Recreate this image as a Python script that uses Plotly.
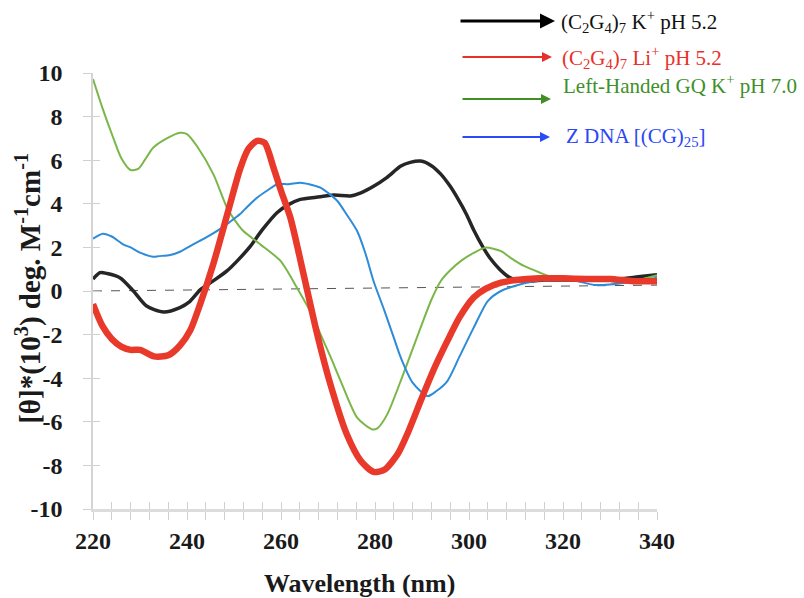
import plotly.graph_objects as go

# ---------------- data ----------------
wl_k = [220, 221.5, 223, 225.8, 228.6, 231.4, 235, 238.5, 240.5, 242.8, 245.5, 248.5, 251, 253.5,
        256, 259.2, 261.5, 264.1, 267.5, 271.2, 274.8, 277, 279.7, 282.5, 285.5, 287.5, 289.7, 292,
        294, 296, 297.5, 299.5, 301, 303, 304.5, 306.5, 308.5, 310, 313, 316, 320, 324, 328, 332, 336, 340]
cd_k = [0.55, 0.84, 0.8, 0.6, 0.0, -0.69, -0.96, -0.76, -0.5, 0.05, 0.45, 0.92, 1.45, 2.06,
        2.8, 3.6, 3.95, 4.2, 4.3, 4.4, 4.36, 4.5, 4.8, 5.2, 5.73, 5.9, 5.96, 5.75,
        5.36, 4.8, 4.28, 3.5, 2.8, 2.0, 1.5, 1.0, 0.64, 0.5, 0.45, 0.5, 0.5, 0.5, 0.55, 0.55, 0.65, 0.75]

wl_li = [220, 222, 224, 226, 228, 230, 233, 236, 238.5, 240.7, 242.8, 245.6, 248.8, 251.3, 253,
         254.8, 256.5, 258.4, 260, 262, 264.8, 267.7, 270.5, 274, 277, 279.7, 282, 284.8, 287,
         289.7, 292.5, 295.4, 298, 301, 303.5, 306.8, 310, 315, 320, 325, 330, 335, 340]
cd_li = [-0.6, -1.6, -2.2, -2.55, -2.7, -2.7, -3.0, -2.95, -2.5, -1.8, -0.6, 1.24, 3.7, 5.6, 6.5,
         6.88, 6.8, 5.66, 4.6, 3.36, 0.77, -1.98, -4.27, -6.57, -7.8, -8.3, -8.2, -7.49, -6.5,
         -5.05, -3.6, -2.29, -1.2, -0.3, 0.1, 0.38, 0.5, 0.58, 0.58, 0.55, 0.55, 0.45, 0.45]

wl_gq = [220, 222, 224.3, 226, 228, 229.6, 231, 232.8, 235.7, 238.5, 240, 242.1, 245.6, 248.5, 250,
         252, 255.6, 259.9, 263.4, 266.9, 268.4, 270.5, 272.7, 276.2, 279.4, 280.5, 282.6, 286,
         289.7, 292, 294, 296, 298.3, 301, 303.5, 306.8, 309, 311.7, 315, 318, 322, 326.6, 329,
         332.4, 336, 340]
cd_gq = [9.72, 8.4, 7.03, 6.1, 5.55, 5.6, 6.0, 6.57, 7.0, 7.26, 7.2, 6.65, 5.36, 3.82, 3.3,
         2.75, 2.14, 1.38, 0.15, -1.22, -1.98, -3.0, -4.13, -5.81, -6.35, -6.3, -5.66, -3.82,
         -1.68, -0.4, 0.46, 0.95, 1.38, 1.75, 1.99, 1.83, 1.5, 1.15, 0.85, 0.61, 0.6, 0.55, 0.5,
         0.38, 0.5, 0.73]

wl_z = [220, 222.1, 224, 226.4, 228, 230, 232.8, 234, 236.4, 238.5, 241.3, 244, 247, 249, 251.3,
        253, 254.9, 257, 259.2, 261.5, 264.1, 266, 268.4, 270, 272, 274, 276.2, 278, 279.7, 282,
        284, 285.5, 288, 291.2, 293, 295.4, 298, 301, 304, 306.8, 311.2, 315, 318, 322, 326.6,
        330, 334, 340]
cd_z = [2.4, 2.63, 2.5, 2.14, 2.0, 1.76, 1.57, 1.6, 1.65, 1.8, 2.14, 2.45, 2.84, 3.15, 3.53,
        3.9, 4.28, 4.6, 4.9, 4.9, 4.97, 4.9, 4.74, 4.5, 4.13, 3.5, 2.75, 1.7, 0.45, -0.9,
        -2.14, -3.06, -4.2, -4.82, -4.6, -4.13, -3.0, -1.68, -0.46, 0.0, 0.32, 0.48, 0.55, 0.5,
        0.28, 0.3, 0.4, 0.61]

wl_base = [220, 340]
cd_base = [0.0, 0.27]

legend_labels = [
    "(C<sub>2</sub>G<sub>4</sub>)<sub>7</sub> K<sup>+</sup> pH 5.2",
    "(C<sub>2</sub>G<sub>4</sub>)<sub>7</sub> Li<sup>+</sup> pH 5.2",
    "Left-Handed GQ K<sup>+</sup> pH 7.0",
    "Z DNA [(CG)<sub>25</sub>]",
]
x_ticks = [220, 240, 260, 280, 300, 320, 340]
y_ticks = [-10, -8, -6, -4, -2, 0, 2, 4, 6, 8, 10]

# ---------------- figure ----------------
SERIF = "Liberation Serif"
fig = go.Figure()

fig.add_trace(go.Scatter(x=wl_base, y=cd_base, mode="lines",
                         line=dict(color="#555555", width=1, dash="dash"), hoverinfo="skip"))
fig.add_trace(go.Scatter(x=wl_k, y=cd_k, mode="lines", line=dict(color="#262626", width=3.5, shape="spline", smoothing=0.7)))
fig.add_trace(go.Scatter(x=wl_gq, y=cd_gq, mode="lines", line=dict(color="#7ab648", width=2, shape="spline", smoothing=0.7)))
fig.add_trace(go.Scatter(x=wl_z, y=cd_z, mode="lines", line=dict(color="#2e8bd8", width=2, shape="spline", smoothing=0.7)))
fig.add_trace(go.Scatter(x=wl_li, y=cd_li, mode="lines", line=dict(color="#e8392b", width=6.5, shape="spline", smoothing=0.7)))
# dummy trace to create overlay axes (for crossing ticks)
fig.add_trace(go.Scatter(x=[None], y=[None], xaxis="x2", yaxis="y2", hoverinfo="skip"))

fig.update_layout(
    width=804, height=598,
    margin=dict(l=93, r=147, t=73, b=89),
    paper_bgcolor="white", plot_bgcolor="white",
    showlegend=False,
    font=dict(family=SERIF),
    xaxis=dict(range=[220, 340], tickvals=x_ticks, ticktext=["<b>%d</b>" % v for v in x_ticks],
               showgrid=False, zeroline=False, showline=True, linecolor="#dcdcdc", linewidth=2.5,
               ticks="outside", ticklen=8, tickcolor="#d0d0d0", tickwidth=1,
               minor=dict(dtick=4, tick0=220, ticks="outside", ticklen=8, tickcolor="#d0d0d0", tickwidth=1),
               tickfont=dict(family=SERIF, size=24, color="#1a1a1a"),
               ticklabelstandoff=0),
    yaxis=dict(range=[-10, 10], tickvals=y_ticks, ticktext=["<b>%d</b>" % v for v in y_ticks],
               showgrid=False, zeroline=False, showline=True, linecolor="#d4d4d4", linewidth=1.5,
               ticks="outside", ticklen=8, tickcolor="#d0d0d0", tickwidth=1,
               tickfont=dict(family=SERIF, size=24, color="#1a1a1a"),
               ticklabelstandoff=16),
    xaxis2=dict(range=[220, 340], overlaying="x", showgrid=False, zeroline=False, showline=False,
                showticklabels=False, tickvals=x_ticks, ticks="inside", ticklen=7, tickcolor="#d0d0d0",
                minor=dict(dtick=4, tick0=220, ticks="inside", ticklen=7, tickcolor="#d0d0d0")),
    yaxis2=dict(range=[-10, 10], overlaying="y", showgrid=False, zeroline=False, showline=False,
                showticklabels=False, tickvals=y_ticks, ticks="inside", ticklen=7, tickcolor="#d0d0d0"),
)

annotations = []
# axis titles
annotations.append(dict(xref="paper", yref="paper", x=0.4725, y=0, yanchor="top", yshift=-58,
                        showarrow=False, text="<b>Wavelength (nm)</b>",
                        font=dict(family=SERIF, size=26, color="#1a1a1a")))
annotations.append(dict(xref="paper", yref="paper", x=0, y=0.505, xanchor="center", xshift=-64,
                        showarrow=False, textangle=-90,
                        text="<b>[θ]*(10<sup>3</sup>) deg. M<sup>-1</sup>cm<sup>-1</sup></b>",
                        font=dict(family=SERIF, size=29, color="#1a1a1a")))

# custom legend: arrows + labels (pixel positions converted to paper)
def px_x(X):
    return (X - 93) / 564.0

def px_y(Y):
    return (509 - Y) / 436.0

leg_colors_arrow = ["#000000", "#e8302a", "#3f8f25", "#2a4cf5"]
leg_colors_text = ["#111111", "#e8302a", "#3f8f2a", "#2a46f5"]
arrow_y = [21, 57, 99, 137]
arrow_x0 = [459, 461, 461, 461]
arrow_x1 = [555, 552, 551, 550]
arrow_w = [3, 2, 2, 2]
text_x = [559, 560, 561, 564]
text_y = [21, 57, 85, 137]
for i in range(4):
    annotations.append(dict(xref="paper", yref="paper", x=px_x(arrow_x1[i]), y=px_y(arrow_y[i]),
                            ax=arrow_x0[i] - arrow_x1[i], ay=0, axref="pixel", ayref="pixel",
                            text="", showarrow=True, arrowhead=2, arrowsize=1, arrowwidth=arrow_w[i],
                            arrowcolor=leg_colors_arrow[i], standoff=0))
    annotations.append(dict(xref="paper", yref="paper", x=px_x(text_x[i]), y=px_y(text_y[i]),
                            xanchor="left", yanchor="middle", showarrow=False, text=legend_labels[i],
                            font=dict(family=SERIF, size=21, color=leg_colors_text[i])))

fig.update_layout(annotations=annotations)
fig.write_html("out.html")
